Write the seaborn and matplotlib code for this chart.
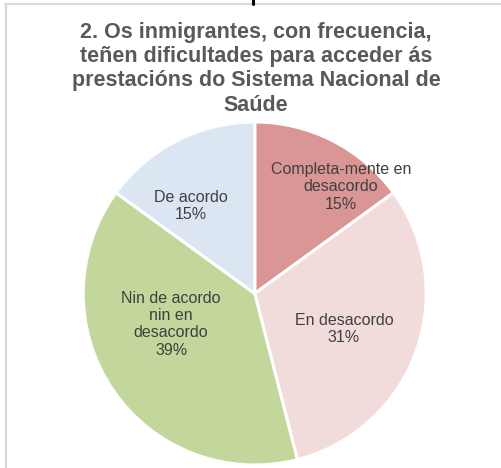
import numpy as np
import matplotlib
matplotlib.use("Agg")
import matplotlib.pyplot as plt
import seaborn as sns
from matplotlib.lines import Line2D

# Survey answers, clockwise from 12 o'clock
categories = ["Completa-mente en\ndesacordo", "En desacordo",
              "Nin de acordo\nnin en\ndesacordo", "De acordo"]
shares = [15, 31, 39, 15]
colors = ["#D99694", "#F2DCDB", "#C3D69B", "#DCE6F2"]
title = ("2. Os inmigrantes, con frecuencia,\nteñen dificultades para acceder ás\n"
         "prestacións do Sistema Nacional de\nSaúde")

# label placement: fraction of radius and angular nudge (degrees)
label_radius = [0.80, 0.56, 0.52, 0.63]
label_nudge = [-12.0, -2.0, -14.0, 9.0]

sns.set_theme(style="white")
plt.rcParams["font.family"] = ["Liberation Sans", "DejaVu Sans"]

fig = plt.figure(figsize=(5.02, 4.68), dpi=100)
fig.patch.set_facecolor("white")

# frame lines of the chart area
fig.add_artist(Line2D([6 / 502, 6 / 502], [0, 1 - 3.5 / 468],
                      transform=fig.transFigure, color="#D9D9D9", lw=1.6))
fig.add_artist(Line2D([5 / 502, 1], [1 - 3.5 / 468, 1 - 3.5 / 468],
                      transform=fig.transFigure, color="#D9D9D9", lw=1.6))
fig.add_artist(Line2D([253.5 / 502, 253.5 / 502], [1 - 4 / 468, 1],
                      transform=fig.transFigure, color="black", lw=2.2))

fig.text(0.51, 1 - 22 / 468, title, ha="center", va="top",
         fontsize=15.5, fontweight="bold", color="#595959", linespacing=1.2)

ax = fig.add_axes([0.1658, 0.0064, 0.6833, 0.7329])
wedges, _ = ax.pie(shares, colors=colors, startangle=90, counterclock=False,
                   radius=1.0,
                   wedgeprops=dict(edgecolor="white", linewidth=2.2))
ax.set_xlim(-1, 1)
ax.set_ylim(-1, 1)
ax.set_aspect("equal")
ax.axis("off")

for w, cat, val, r, d in zip(wedges, categories, shares, label_radius, label_nudge):
    mid = np.deg2rad((w.theta1 + w.theta2) / 2 + d)
    ax.text(r * np.cos(mid), r * np.sin(mid), f"{cat}\n{val}%",
            ha="center", va="center", fontsize=11.5, color="#404040",
            linespacing=1.18)

fig.savefig("out.png", dpi=100, facecolor="white")
